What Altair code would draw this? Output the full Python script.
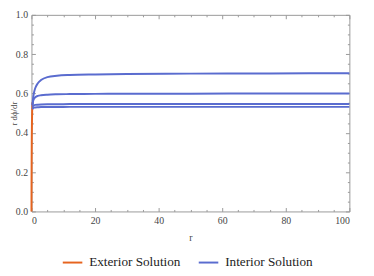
import altair as alt
import pandas as pd

# Exterior solution (orange)
ext_r = [0.0, 0.02, 0.05, 0.1, 0.15, 0.2, 0.3]
ext_v = [0.0, 0.12, 0.25, 0.38, 0.45, 0.50, 0.555]

# Interior solutions (blue), four curves
int_r = [0.3, 0.5, 0.8, 1.2, 2, 3, 5, 8, 12, 20, 30, 50, 75, 100]
int_a = [0.54, 0.575, 0.605, 0.628, 0.652, 0.668, 0.683, 0.690, 0.694, 0.697, 0.699, 0.701, 0.702, 0.703]
int_b = [0.54, 0.560, 0.573, 0.581, 0.588, 0.591, 0.594, 0.596, 0.597, 0.598, 0.599, 0.599, 0.600, 0.600]
int_c = [0.53, 0.536, 0.540, 0.542, 0.543, 0.544, 0.545, 0.545, 0.546, 0.546, 0.546, 0.546, 0.547, 0.547]
int_d = [0.52, 0.525, 0.528, 0.529, 0.530, 0.531, 0.531, 0.531, 0.532, 0.532, 0.532, 0.532, 0.532, 0.532]

x_major = [0, 20, 40, 60, 80, 100]
x_minor = [v for v in range(0, 101, 5) if v % 20 != 0]
y_major = [0.0, 0.2, 0.4, 0.6, 0.8, 1.0]
y_minor = [round(i * 0.05, 2) for i in range(21) if i % 4 != 0]

labels = ["Exterior Solution", "Interior Solution"]
colors = ["#e6641f", "#5a6ccf"]

rows = []
for r, v in zip(ext_r, ext_v):
    rows.append({"r": r, "v": v, "curve": "ext", "label": labels[0]})
for name, vals in [("a", int_a), ("b", int_b), ("c", int_c), ("d", int_d)]:
    for r, v in zip(int_r, vals):
        rows.append({"r": r, "v": v, "curve": name, "label": labels[1]})
df = pd.DataFrame(rows)

W, H = 325, 201
FONT = "Liberation Serif"
GRAY = "#999999"
TXT = "#444444"

xs = alt.Scale(domain=[0, 100], nice=False)
ys = alt.Scale(domain=[0, 1], nice=False)

color = alt.Color(
    "label:N",
    scale=alt.Scale(domain=labels, range=colors),
    legend=alt.Legend(
        title=None, orient="none", legendX=31, legendY=242, direction="horizontal",
        symbolType="stroke", symbolStrokeWidth=2, symbolSize=400,
        labelFont=FONT, labelFontSize=13.5, labelColor="#222222",
        labelOffset=6, columnPadding=14, padding=0,
    ),
)

base = alt.Chart(df)

main_ext = base.transform_filter(alt.datum.curve == "ext").mark_line(
    strokeWidth=2, interpolate="monotone").encode(
    x=alt.X("r:Q", scale=xs, axis=alt.Axis(
        orient="bottom", values=x_major, ticks=False, domainColor=GRAY, format="d",
        labelFont=FONT, labelFontSize=10, labelColor=TXT, labelPadding=4,
        title="r", titleFont=FONT, titleFontSize=10, titleFontWeight="normal",
        titleColor=TXT, titlePadding=8, grid=False)),
    y=alt.Y("v:Q", scale=ys, axis=alt.Axis(
        orient="left", values=y_major, ticks=False, domainColor=GRAY, format=".1f",
        labelFont=FONT, labelFontSize=10, labelColor=TXT, labelPadding=4,
        title="r dϕ/dr", titleFont=FONT, titleFontSize=9, titleFontWeight="normal",
        titleColor=TXT, titleX=-13, grid=False)),
    color=color,
    detail="curve:N",
)

main_int = base.transform_filter(alt.datum.curve != "ext").mark_line(
    strokeWidth=2, interpolate="monotone").encode(
    x=alt.X("r:Q", scale=xs, axis=alt.Axis(
        orient="top", offset=-H, values=x_major, labels=False, domain=False,
        tickSize=4, tickColor=GRAY, title=None, grid=False)),
    y=alt.Y("v:Q", scale=ys, axis=alt.Axis(
        orient="right", offset=-W, values=y_major, labels=False, domain=False,
        tickSize=4, tickColor=GRAY, title=None, grid=False)),
    color=color,
    detail="curve:N",
)


def tick_layer(xorient, yorient, xoff, yoff, xv, yv, size, domain):
    return base.transform_filter(alt.datum.curve == "ext").mark_line(strokeOpacity=0).encode(
        x=alt.X("r:Q", scale=xs, axis=alt.Axis(
            orient=xorient, offset=xoff, values=xv, labels=False, domain=domain,
            domainColor=GRAY, tickSize=size, tickColor=GRAY, title=None, grid=False)),
        y=alt.Y("v:Q", scale=ys, axis=alt.Axis(
            orient=yorient, offset=yoff, values=yv, labels=False, domain=domain,
            domainColor=GRAY, tickSize=size, tickColor=GRAY, title=None, grid=False)),
    )


minor_bl = tick_layer("top", "right", -H, -W, x_minor, y_minor, 2, False)
major_tr = tick_layer("bottom", "left", -H, -W, x_major, y_major, 4, True)
minor_tr = tick_layer("bottom", "left", -H, -W, x_minor, y_minor, 2, False)

chart = alt.layer(main_ext, main_int, minor_bl, major_tr, minor_tr).resolve_axis(
    x="independent", y="independent"
).properties(
    width=W, height=H,
    autosize=alt.AutoSizeParams(type="none"),
    padding={"left": 24, "top": 4, "right": 17, "bottom": 63},
).configure(background="white").configure_view(stroke=None)

chart.save("out.html", embed_options={"renderer": "svg", "actions": False})
